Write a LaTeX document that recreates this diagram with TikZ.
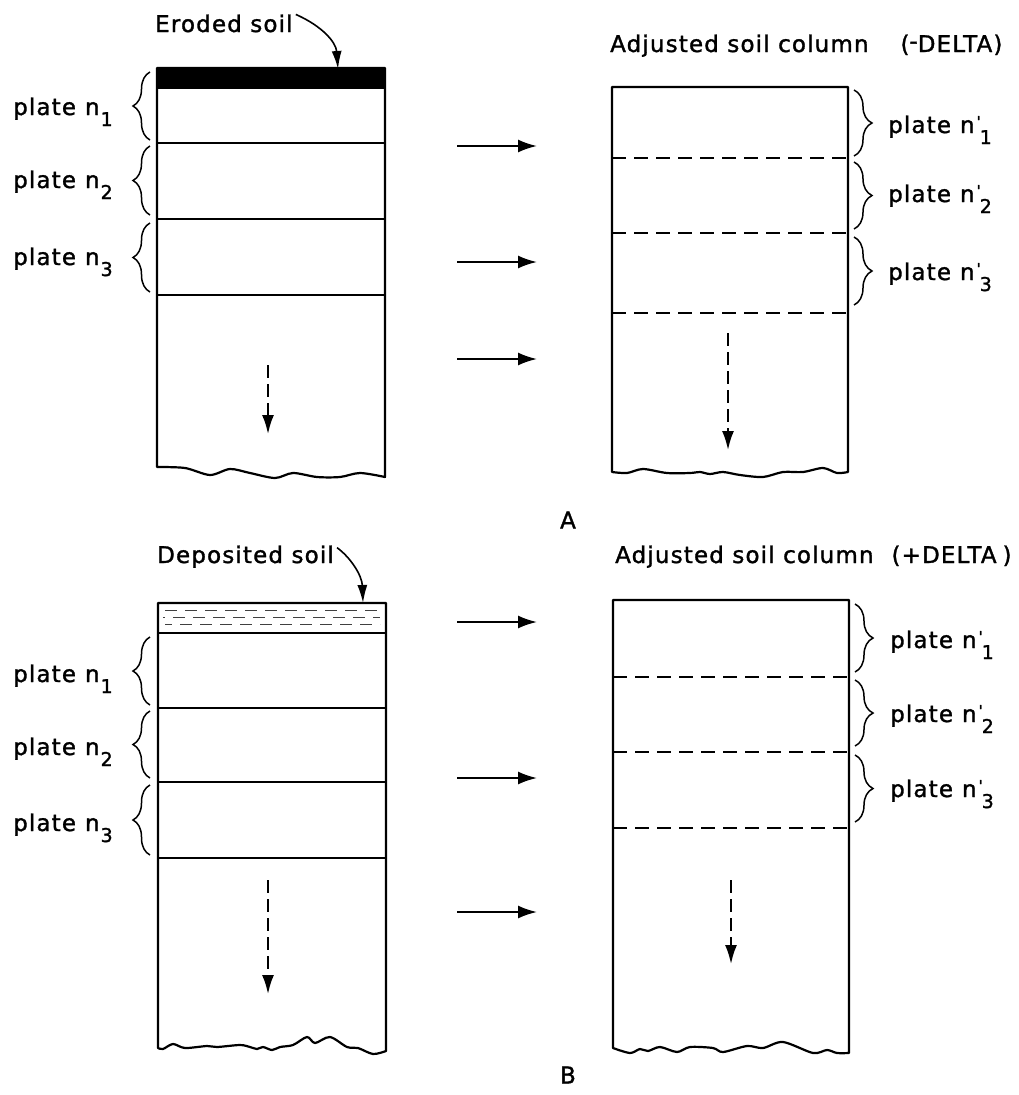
\documentclass[tikz,border=0pt]{standalone}
\usepackage{fontspec}
\setmainfont[LetterSpace=5,FakeBold=1.4]{DejaVu Sans}
\usetikzlibrary{arrows.meta,decorations.pathreplacing}

% plate labels: n with a lowered index, optionally primed
\newcommand\plt[1]{plate\hspace{9pt}n\kern1pt\raisebox{-11pt}{\fontsize{19}{19}\selectfont #1}}
\newcommand\pltp[1]{plate\hspace{9pt}n\kern2pt\raisebox{6pt}{\fontsize{15}{15}\selectfont\textquotesingle}\kern-1pt\raisebox{-11pt}{\fontsize{19}{19}\selectfont #1}}

\begin{document}
\begin{tikzpicture}[x=1pt,y=-1pt,
  lbl/.style={font=\fontsize{23}{26}\selectfont, inner sep=0pt, anchor=base west},
  edge/.style={line width=2.2pt, line join=round},
  adjline/.style={line width=2pt, dash pattern=on 14pt off 8pt},
  lbrace/.style={line width=1.5pt, decorate, decoration={brace, amplitude=17pt}},
  rbrace/.style={line width=1.5pt, decorate, decoration={brace, amplitude=18pt}},
  transfer/.style={line width=2pt, -{Latex[length=19pt,width=13pt]}},
  sink/.style={line width=2pt, dash pattern=on 13pt off 6pt, -{Latex[length=19pt,width=12pt]}},
  tag/.style={line width=1.6pt, -{Latex[length=18pt,width=10pt]}},
  hatch/.style={line width=1pt, black!75, dash pattern=on 12pt off 8pt}]

\useasboundingbox (0,0) rectangle (1018,1095);

% ---------------- Part A: erosion ----------------
% original column with the eroded layer on top
\fill (157,68) rectangle (385,89);
\draw[edge] (157,68) -- (157,467) -- plot[smooth] coordinates {(157,467) (185,468) (210,475) (230,469) (250,473) (275,478) (293,473) (317,477) (340,477) (360,473) (385,477)} -- (385,68) -- cycle;
\foreach \y in {143,219,295} \draw[edge] (157,\y) -- (385,\y);

\node[lbl] (eroded) at (155,32) {Eroded soil};
\coordinate (erodedtip) at (338,69);
\draw[tag] (eroded.east) ++(3,-9) .. controls (322,26) and (336,42) .. (erodedtip);

\draw[lbrace] (150,140) -- (150,72);
\draw[lbrace] (150,215) -- (150,146);
\draw[lbrace] (150,292) -- (150,223);
\node[lbl] (an1) at (13,115) {\plt{1}};
\node[lbl] (an2) at (13,188) {\plt{2}};
\node[lbl] (an3) at (13,265) {\plt{3}};

\coordinate (aleftS) at (268,365); \coordinate (aleftE) at (268,434);
\draw[sink] (aleftS) -- (aleftE);

% transfer arrows
\foreach \y [count=\i] in {146,262,359} {
  \coordinate (as\i) at (457,\y); \coordinate (ae\i) at (537,\y);
  \draw[transfer] (as\i) -- (ae\i);
}

% adjusted column (-DELTA)
\node[lbl] (adjA) at (610,52) {Adjusted soil column\hspace{32pt}(\raisebox{3pt}{-}DELTA)};
\draw[edge] (612,87) -- (612,472) -- plot[smooth] coordinates {(612,472) (627,473) (643,469) (667,473) (690,473) (700,472) (710,474) (723,472) (740,475) (763,477) (783,472) (803,472) (823,468) (837,473) (848,472)} -- (848,87) -- cycle;
\foreach \y in {158,233,313} \draw[adjline] (612,\y) -- (848,\y);

\draw[rbrace] (854,90) -- (854,156);
\draw[rbrace] (854,162) -- (854,229);
\draw[rbrace] (854,237) -- (854,305);
\node[lbl] (bn1) at (888,133) {\pltp{1}};
\node[lbl] (bn2) at (888,202) {\pltp{2}};
\node[lbl] (bn3) at (888,280) {\pltp{3}};

\coordinate (arightS) at (728,333); \coordinate (arightE) at (728,450);
\draw[sink] (arightS) -- (arightE);

\node[font=\fontsize{23}{26}\selectfont, inner sep=0pt] (capA) at (568,520) {A};

% ---------------- Part B: deposition ----------------
\draw[edge] (158,603) -- (158,1048) -- plot[smooth] coordinates {(158,1048) (163,1049) (173,1044) (185,1048) (207,1046) (217,1047) (240,1045) (250,1047) (257,1049) (263,1047) (272,1050) (280,1047) (293,1045) (307,1037) (315,1043) (330,1037) (347,1047) (358,1048) (373,1054) (386,1051)} -- (386,603) -- cycle;
\foreach \y in {633,708,782,858} \draw[edge] (158,\y) -- (386,\y);
% deposited layer texture
\draw[hatch] (165,610) -- (380,610);
\draw[hatch, dash phase=10pt] (163,617) -- (380,617);
\draw[hatch, dash phase=5pt] (165,624) -- (380,624);

\node[lbl] (deposited) at (157,563) {Deposited soil};
\coordinate (deptip) at (363,603);
\draw[tag] (deposited.east) ++(3,-9) .. controls (350,557) and (362,575) .. (deptip);

\draw[lbrace] (150,705) -- (150,637);
\draw[lbrace] (150,778) -- (150,711);
\draw[lbrace] (150,855) -- (150,785);
\node[lbl] (cn1) at (13,682) {\plt{1}};
\node[lbl] (cn2) at (13,755) {\plt{2}};
\node[lbl] (cn3) at (13,831) {\plt{3}};

\coordinate (bleftS) at (268,880); \coordinate (bleftE) at (268,994);
\draw[sink] (bleftS) -- (bleftE);

\foreach \y [count=\i] in {622,778,912} {
  \coordinate (bs\i) at (457,\y); \coordinate (be\i) at (537,\y);
  \draw[transfer] (bs\i) -- (be\i);
}

% adjusted column (+DELTA)
\node[lbl] (adjB) at (615,563) {Adjusted soil column\hspace{18pt}(+DELTA\hspace{6pt})};
\draw[edge] (613,600) -- (613,1048) -- plot[smooth] coordinates {(613,1048) (630,1053) (640,1049) (648,1051) (660,1047) (677,1052) (690,1047) (713,1048) (723,1052) (747,1046) (763,1048) (783,1042) (813,1053) (827,1050) (837,1053) (849,1053)} -- (849,600) -- cycle;
\foreach \y in {677,752,828} \draw[adjline] (613,\y) -- (849,\y);

\draw[rbrace] (855,604) -- (855,672);
\draw[rbrace] (855,680) -- (855,746);
\draw[rbrace] (855,755) -- (855,822);
\node[lbl] (dn1) at (890,648) {\pltp{1}};
\node[lbl] (dn2) at (890,722) {\pltp{2}};
\node[lbl] (dn3) at (890,797) {\pltp{3}};

\coordinate (brightS) at (731,880); \coordinate (brightE) at (731,964);
\draw[sink] (brightS) -- (brightE);

\node[font=\fontsize{23}{26}\selectfont, inner sep=0pt] (capB) at (568,1075) {B};

\end{tikzpicture}
\end{document}
